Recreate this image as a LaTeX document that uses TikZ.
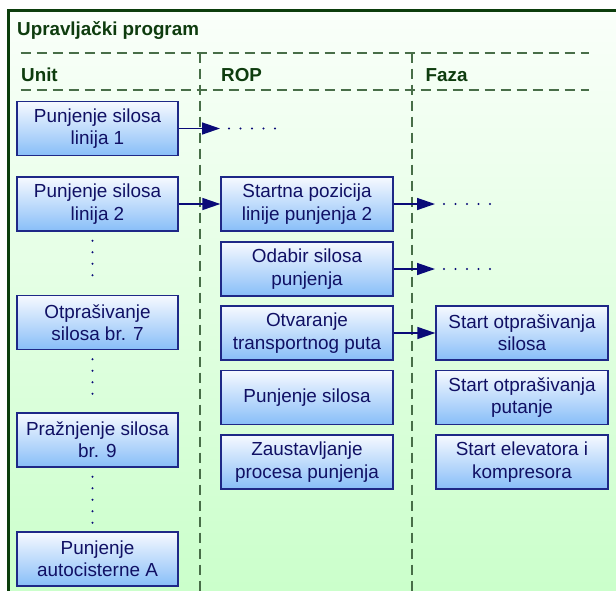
\documentclass[tikz,border=0pt]{standalone}
\usepackage{fontspec}
\setmainfont{Liberation Sans}
\usetikzlibrary{arrows.meta}
\definecolor{framegreen}{RGB}{12,62,12}
\definecolor{titlegreen}{RGB}{14,60,14}
\definecolor{dashgreen}{RGB}{72,110,72}
\definecolor{bgtop}{RGB}{250,255,250}
\definecolor{bgbot}{RGB}{202,255,202}
\definecolor{boxtop}{RGB}{246,249,255}
\definecolor{boxbot}{RGB}{136,190,248}
\definecolor{boxline}{RGB}{30,40,135}
\definecolor{boxtext}{RGB}{16,16,100}
\definecolor{arrowblue}{RGB}{10,10,120}
\tikzset{
  procbox/.style={draw=boxline, line width=1.3pt, top color=boxtop, bottom color=boxbot,
    minimum height=54pt, inner sep=0pt, align=center, text=boxtext,
    font=\fontsize{18.9}{22.4}\selectfont},
  unitbox/.style={procbox, minimum width=161pt},
  ropbox/.style={procbox, minimum width=172pt},
  lanesep/.style={draw=dashgreen, line width=1.8pt, dash pattern=on 10pt off 6pt},
  flow/.style={draw=arrowblue, line width=1.4pt, -{Triangle[length=18pt,width=12pt]}},
  contdots/.style={draw=arrowblue, line width=2.3pt, line cap=round, dash pattern=on 0pt off 11.5pt},
  headtext/.style={anchor=base west, inner sep=0pt, text=titlegreen,
    font=\fontsize{18.8}{22}\selectfont\bfseries},
}
\begin{document}
\begin{tikzpicture}[x=1pt,y=-1pt]
\useasboundingbox (0,0) rectangle (616,590);
\clip (0,0) rectangle (616,590);
\fill[white] (0,0) rectangle (616,590);
\shade[top color=bgtop, bottom color=bgbot] (8.7,10.5) rectangle (640,600);
\draw[framegreen, line width=2.6pt] (8.7,620) -- (8.7,10.5) -- (640,10.5);

% lane separators
\draw[lanesep] (20.7,52.7) -- (589,52.7);
\draw[lanesep] (20.7,90) -- (589,90);
\draw[lanesep] (200,52.7) -- (200,600);
\draw[lanesep] (412,52.7) -- (412,600);

% headings
\node[headtext] (title) at (17,35) {Upravljački program};
\node[headtext] (hunit) at (21,81.5) {Unit};
\node[headtext] (hrop) at (221,81.5) {ROP};
\node[headtext] (hfaza) at (425.5,81.5) {Faza};

% Unit column
\node[unitbox] (u1) at (97.5,128.5) {Punjenje silosa\\linija 1};
\node[unitbox] (u2) at (97.5,204) {Punjenje silosa\\linija 2};
\node[unitbox] (u3) at (97.5,322.5) {Otprašivanje\\silosa br. 7};
\node[unitbox] (u4) at (97.5,440) {Pražnjenje silosa\\br. 9};
\node[unitbox] (u5) at (97.5,559) {Punjenje\\autocisterne A};

% ROP column
\node[ropbox] (r1) at (307,204) {Startna pozicija\\linije punjenja 2};
\node[ropbox] (r2) at (307,269) {Odabir silosa\\punjenja};
\node[ropbox] (r3) at (307,333) {Otvaranje\\transportnog puta};
\node[ropbox] (r4) at (307,397.5) {Punjenje silosa};
\node[ropbox] (r5) at (307,462) {Zaustavljanje\\procesa punjenja};

% Faza column
\node[ropbox] (f1) at (522,333) {Start otprašivanja\\silosa};
\node[ropbox] (f2) at (522,397.5) {Start otprašivanja\\putanje};
\node[ropbox] (f3) at (522,462) {Start elevatora i\\kompresora};

% free ends
\coordinate (e1) at (220,128.5);
\coordinate (d1a) at (229,128.5);
\coordinate (d1b) at (275,128.5);
\coordinate (e2) at (435,204);
\coordinate (d2a) at (444,204);
\coordinate (d2b) at (490,204);
\coordinate (e3) at (435,269);
\coordinate (d3a) at (444,269);
\coordinate (d3b) at (490,269);

% connectors
\draw[flow] (u1.east) -- (e1);
\draw[flow] (u2.east) -- (r1.west);
\draw[flow] (r1.east) -- (e2);
\draw[flow] (r2.east) -- (e3);
\draw[flow] (r3.east) -- (f1.west);

% continuation dots
\draw[contdots] (d1a) -- (d1b);
\draw[contdots] (d2a) -- (d2b);
\draw[contdots] (d3a) -- (d3b);
\draw[contdots, shorten <=9pt, shorten >=8.5pt] ([xshift=-5pt]u2.south) -- ([xshift=-5pt]u3.north);
\draw[contdots, shorten <=9pt, shorten >=8.5pt] ([xshift=-5pt]u3.south) -- ([xshift=-5pt]u4.north);
\draw[contdots, shorten <=9pt, shorten >=8.5pt] ([xshift=-5pt]u4.south) -- ([xshift=-5pt]u5.north);
\end{tikzpicture}
\end{document}
